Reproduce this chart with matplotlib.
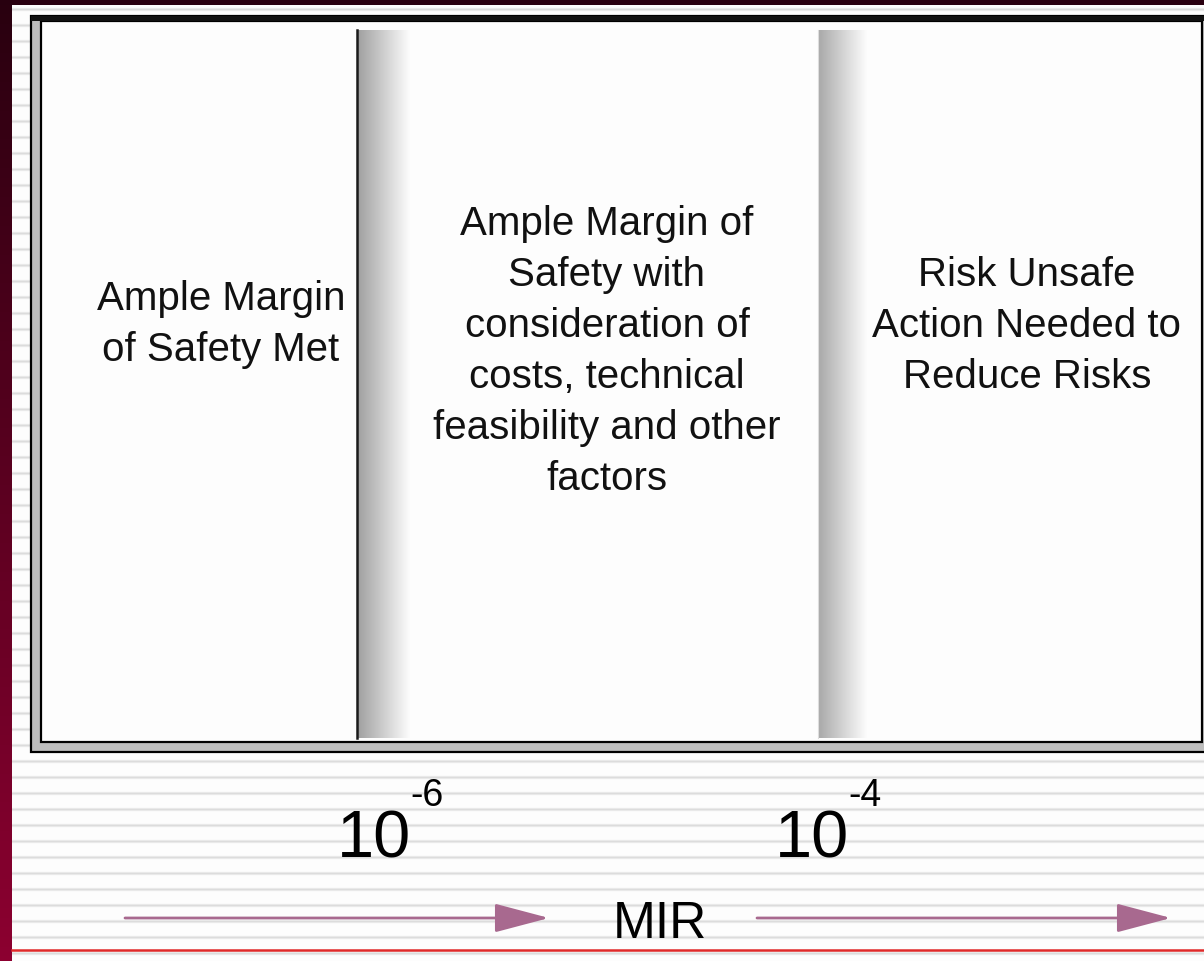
import numpy as np
import matplotlib
matplotlib.use("Agg")
import matplotlib.pyplot as plt
from matplotlib.patches import Rectangle, FancyArrowPatch

# ---------------- data ----------------
zone_lines = [
    ["Ample Margin", "of Safety Met"],
    ["Ample Margin of", "Safety with", "consideration of", "costs, technical",
     "feasibility and other", "factors"],
    ["Risk Unsafe", "Action Needed to", "Reduce Risks"],
]
threshold_bases = ["10", "10"]
threshold_exponents = ["-6", "-4"]
axis_label = "MIR"

# ---------------- layout ----------------
W, H = 1204, 961
FONT = ["Liberation Sans", "DejaVu Sans"]
fig = plt.figure(figsize=(W / 100, H / 100), dpi=100)
ax = fig.add_axes([0, 0, 1, 1])
ax.set_xlim(0, W)
ax.set_ylim(H, 0)
ax.axis("off")
fig.patch.set_facecolor("#fdfdfd")

# striped background
for y in np.arange(8.7, H, 16.0):
    ax.axhline(y, color="#ececec", lw=2.4, zorder=0)
    ax.axhline(y, color="#dcdcdc", lw=0.9, zorder=0)

# top dark band and left maroon gradient border
ax.add_patch(Rectangle((0, 0), W, 5, color="#2a0010", zorder=5, lw=0))
top = np.array([0.16, 0.0, 0.06])
bot = np.array([0.55, 0.0, 0.19])
t = np.linspace(0, 1, 200)[:, None]
grad = (top[None, :] * (1 - t) + bot[None, :] * t)[:, None, :]
ax.imshow(grad, extent=[0, 12, H, 0], aspect="auto", zorder=6, origin="upper")

# double-bordered box
ax.add_patch(Rectangle((30.5, 16), 1300, 736, facecolor="#bdbdbd",
                       edgecolor="black", lw=1.6, zorder=2))
ax.add_patch(Rectangle((40.5, 21), 1161.5, 721, facecolor="#fdfdfd",
                       edgecolor="black", lw=1.6, zorder=3))
ax.add_patch(Rectangle((30.5, 16), 1300, 5, facecolor="#111111",
                       edgecolor="none", zorder=3))

# dividers with gradient shading
def shade(x0, x1, c0):
    s = np.linspace(0, 1, 100)[None, :, None]
    g = np.array(c0)[None, None, :] * (1 - s) + np.array([0.99, 0.99, 0.99])[None, None, :] * s
    ax.imshow(g, extent=[x0, x1, 738, 30], aspect="auto", zorder=4, origin="upper")

shade(358, 410, [0.63, 0.63, 0.63])
ax.plot([357, 357], [30, 738], color="#1a1a1a", lw=1.8, zorder=5)
shade(818, 867, [0.66, 0.66, 0.66])
ax.plot([817.5, 817.5], [30, 738], color="#dddddd", lw=0.8, zorder=5)

# zone texts
zone_x = [221, 607, 1027]
zone_first_baseline = [310, 235, 286]
pitch = 51
fs = 29
for lines, cx, y0 in zip(zone_lines, zone_x, zone_first_baseline):
    for i, line in enumerate(lines):
        ax.text(cx, y0 + i * pitch, line, ha="center", va="baseline",
                fontsize=fs, family=FONT, color="#111111", zorder=7)

# threshold labels
thr_x = [337, 775]
for base, exp, x in zip(threshold_bases, threshold_exponents, thr_x):
    ax.text(x, 858, base, ha="left", va="baseline", fontsize=48,
            family=FONT, color="black", zorder=7)
    ax.text(x + 73, 806, exp, ha="left", va="baseline", fontsize=27,
            family=FONT, color="black", zorder=7)

# arrows and axis label
arrow_color = "#a8698f"
for xs, xe in [(125, 549), (757, 1171)]:
    ax.add_patch(FancyArrowPatch((xs, 918), (xe, 918),
                 arrowstyle="-|>,head_length=34,head_width=9",
                 mutation_scale=1, color=arrow_color, lw=2.0,
                 shrinkA=0, shrinkB=0, zorder=7))
ax.text(660, 938, axis_label, ha="center", va="baseline", fontsize=37,
        family=FONT, color="black", zorder=7)

# red bottom rule
ax.plot([12, W], [950, 950], color="#e02a2a", lw=1.8, zorder=7)

ax.set_xlim(0, W)
ax.set_ylim(H, 0)
fig.savefig("out.png", dpi=100, facecolor=fig.get_facecolor())
